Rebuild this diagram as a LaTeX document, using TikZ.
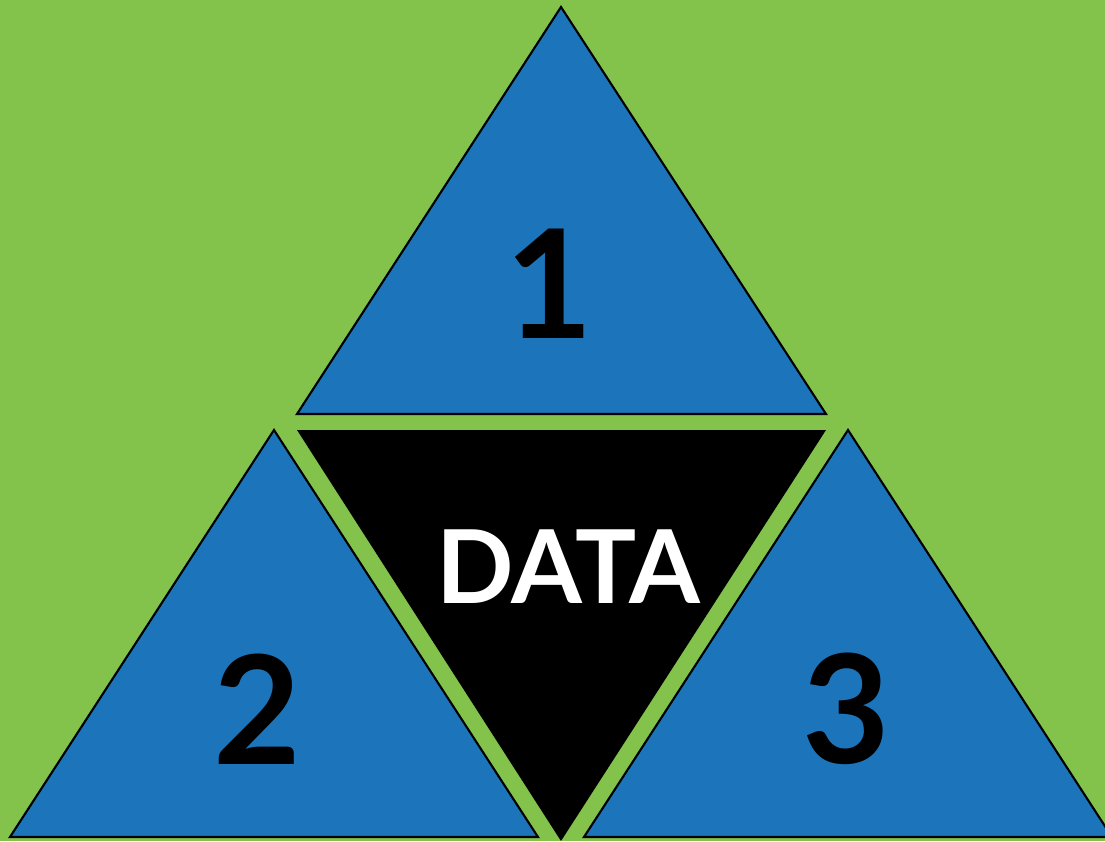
\documentclass[tikz,border=0pt]{standalone}
\usepackage{fontspec}
\setmainfont{Lato}
\usepackage{xcolor}
\definecolor{bggreen}{RGB}{131,195,76}
\definecolor{triblue}{RGB}{28,117,187}
\usetikzlibrary{positioning, calc}

\begin{document}
\begin{tikzpicture}[
            x=0.01cm, y=-0.01cm,
            tri/.style={draw=black, line width=0.6pt, fill=triblue, line join=miter},
            core/.style={fill=black},
            numlabel/.style={font=\fontsize{43}{43}\selectfont\bfseries, text=black, inner sep=0pt},
            datalabel/.style={font=\fontsize{29}{29}\selectfont\bfseries, text=white, inner sep=0pt}
        ]

        % Hintergrund
        \fill[bggreen] (0,0) rectangle (1105,841);
        \useasboundingbox (0,0) rectangle (1105,841);

        % Dreiecke
        \draw[tri] (561,7) -- (826,414) -- (297,414) -- cycle;
        \draw[tri] (274,430) -- (538,837) -- (10,837) -- cycle;
        \draw[tri] (848,430) -- (1112,837) -- (584,837) -- cycle;
        \fill[core] (297,430) -- (826,430) -- (561,841) -- cycle;

        % Beschriftung
        \node[numlabel] (one) at (549,284) {1};
        \node[numlabel] (two) at (257,709) {2};
        \node[numlabel] (three) at (846,709) {3};
        \node[datalabel] (data) at (568,567) {DATA};

    \end{tikzpicture}
\end{document}
